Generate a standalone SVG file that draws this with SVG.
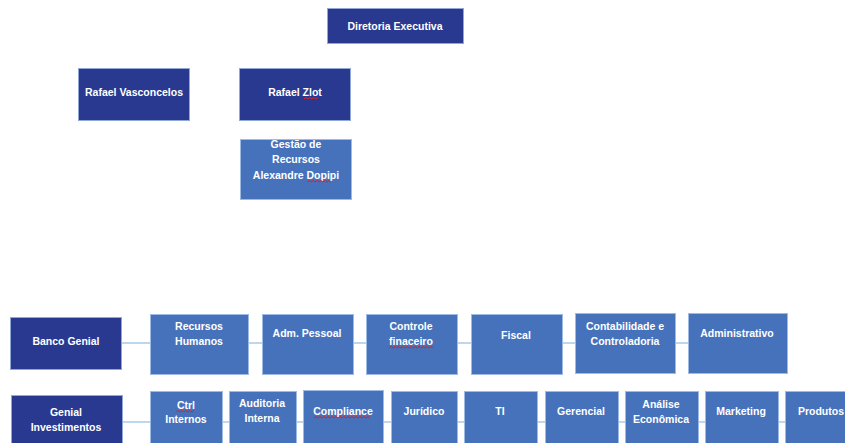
<svg xmlns="http://www.w3.org/2000/svg" width="845" height="443" viewBox="0 0 845 443">
<style>
.dk{fill:#293990;stroke:#8fa8d8;stroke-width:1}
.md{fill:#4672bc;stroke:#9dbbe4;stroke-width:1}
text{font-family:"Liberation Sans",Arial,sans-serif;font-weight:bold;font-size:10.5px;fill:#ffffff;text-anchor:middle}
.cn{stroke:#bdd7ee;stroke-width:2;fill:none}
.sq{stroke:#e02020;stroke-width:1;fill:none}
</style>
<rect width="845" height="443" fill="#ffffff"/>
<g id="connectors">
<line class="cn" x1="121" y1="343" x2="688" y2="343"/>
<line class="cn" x1="122" y1="422" x2="845" y2="422"/>
</g>
<g id="diretoria"><rect class="dk" x="327.500" y="8.500" width="136" height="35"/><text x="395" y="29.500">Diretoria Executiva</text></g>
<g id="rafael-vasconcelos"><rect class="dk" x="78.500" y="68.500" width="111" height="52"/><text x="134" y="96">Rafael Vasconcelos</text></g>
<g id="rafael-zlot"><rect class="dk" x="239.500" y="68.500" width="111" height="52"/><text x="295" y="96">Rafael Zlot</text><path class="sq" d="M304 99 l2 -1.500 l2 1.500 l2 -1.500 l2 1.500 l2 -1.500 l2 1.500 l2 -1.500"/></g>
<g id="gestao"><rect class="md" x="240.500" y="139.500" width="111" height="60"/><text x="296" y="148">Gestão de</text><text x="296" y="163">Recursos</text><text x="296" y="179">Alexandre Dopipi</text><path class="sq" d="M307 182 l2 -1.500 l2 1.500 l2 -1.500 l2 1.500 l2 -1.500 l2 1.500 l2 -1.500 l2 1.500 l2 -1.500 l2 1.500 l2 -1.500 l2 1.500"/></g>
<g id="banco-genial"><rect class="dk" x="10.500" y="317.500" width="111" height="52"/><text x="66" y="345">Banco Genial</text></g>
<g id="recursos-humanos"><rect class="md" x="150.500" y="314.500" width="98" height="60"/><text x="199" y="330">Recursos</text><text x="199" y="345">Humanos</text></g>
<g id="adm-pessoal"><rect class="md" x="262.500" y="314.500" width="91" height="60"/><text x="307" y="337">Adm. Pessoal</text></g>
<g id="controle-financeiro"><rect class="md" x="366.500" y="314.500" width="91" height="60"/><text x="411" y="330">Controle</text><text x="411" y="345">finaceiro</text><path class="sq" d="M389 348 l2 -1.500 l2 1.500 l2 -1.500 l2 1.500 l2 -1.500 l2 1.500 l2 -1.500 l2 1.500 l2 -1.500 l2 1.500 l2 -1.500 l2 1.500 l2 -1.500 l2 1.500 l2 -1.500 l2 1.500 l2 -1.500 l2 1.500 l2 -1.500 l2 1.500 l2 -1.500 l2 1.500"/></g>
<g id="fiscal"><rect class="md" x="471.500" y="314.500" width="91" height="60"/><text x="516" y="339">Fiscal</text></g>
<g id="contabilidade"><rect class="md" x="575.500" y="313.500" width="100" height="60"/><text x="625" y="330">Contabilidade e</text><text x="625" y="345">Controladoria</text></g>
<g id="administrativo"><rect class="md" x="688.500" y="313.500" width="99" height="60"/><text x="737" y="337">Administrativo</text></g>
<g id="genial-investimentos"><rect class="dk" x="11.500" y="395.500" width="111" height="52"/><text x="66" y="416">Genial</text><text x="66" y="431">Investimentos</text></g>
<g id="ctrl-internos"><rect class="md" x="150.500" y="391.500" width="72" height="56"/><text x="186" y="409">Ctrl</text><text x="186" y="423">Internos</text><path class="sq" d="M176 412 l2 -1.500 l2 1.500 l2 -1.500 l2 1.500 l2 -1.500 l2 1.500 l2 -1.500 l2 1.500 l2 -1.500"/></g>
<g id="auditoria-interna"><rect class="md" x="229.500" y="391.500" width="67" height="56"/><text x="262" y="407">Auditoria</text><text x="262" y="422">Interna</text></g>
<g id="compliance"><rect class="md" x="303.500" y="390.500" width="80" height="56"/><text x="343" y="415">Compliance</text><path class="sq" d="M314 418 l2 -1.500 l2 1.500 l2 -1.500 l2 1.500 l2 -1.500 l2 1.500 l2 -1.500 l2 1.500 l2 -1.500 l2 1.500 l2 -1.500 l2 1.500 l2 -1.500 l2 1.500 l2 -1.500 l2 1.500 l2 -1.500 l2 1.500 l2 -1.500 l2 1.500 l2 -1.500 l2 1.500 l2 -1.500 l2 1.500 l2 -1.500 l2 1.500 l2 -1.500 l2 1.500"/></g>
<g id="juridico"><rect class="md" x="391.500" y="391.500" width="66" height="56"/><text x="424" y="415">Jurídico</text></g>
<g id="ti"><rect class="md" x="464.500" y="391.500" width="73" height="56"/><text x="500" y="415">TI</text></g>
<g id="gerencial"><rect class="md" x="545.500" y="391.500" width="73" height="56"/><text x="581" y="415">Gerencial</text></g>
<g id="analise-economica"><rect class="md" x="625.500" y="391.500" width="73" height="56"/><text x="661" y="408">Análise</text><text x="661" y="423">Econômica</text></g>
<g id="marketing"><rect class="md" x="705.500" y="391.500" width="73" height="56"/><text x="741" y="415">Marketing</text></g>
<g id="produtos"><rect class="md" x="785.500" y="391.500" width="73" height="56"/><text x="821" y="415">Produtos</text></g>
</svg>
